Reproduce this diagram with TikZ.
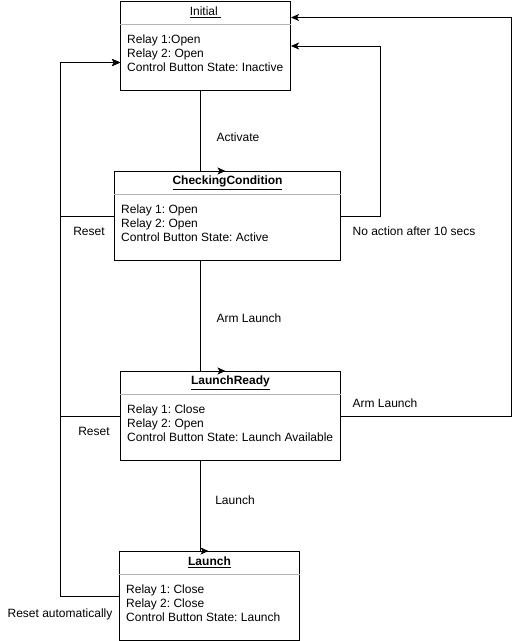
\documentclass[tikz,border=0pt]{standalone}
\usepackage{fontspec}
\setmainfont{Liberation Sans}
\usepackage{xcolor}
\usepackage{tikz}
\usetikzlibrary{arrows.meta,positioning}

\definecolor{splitgray}{HTML}{B3B3B3}
\frenchspacing

\begin{document}
\begin{tikzpicture}[
    x=1pt, y=-1pt,
    font=\fontsize{12}{14}\selectfont,
    state/.style={rectangle, draw, line width=1pt, minimum height=89pt, inner sep=0pt, anchor=north west},
    title/.style={minimum height=23pt, inner sep=0pt},
    body/.style={align=left, inner xsep=7pt, inner ysep=10.5pt, anchor=north west},
    split/.style={draw=splitgray, line width=1pt},
    arrow/.style={line width=1pt, -{Stealth[length=8pt,width=7pt,inset=2pt]}},
    tag/.style={inner sep=0pt}
]
\useasboundingbox (0,0) rectangle (518,641);

% Initial state (top)
\node[state, minimum width=170pt] (init) at (120,1) {};
\node[title, below=0pt of init.north] (initT) {\underline{Initial\ }};
\draw[split] (initT.south -| init.west) -- (initT.south -| init.east);
\node[body] (initB) at (initT.south -| init.west) {Relay 1:Open\\Relay 2: Open\\Control Button State: Inactive};

% Checking condition (second row)
\node[state, minimum width=226pt] (check) at (114,171) {};
\node[title, below=0pt of check.north] (checkT) {\underline{\textbf{CheckingCondition}}};
\draw[split] (checkT.south -| check.west) -- (checkT.south -| check.east);
\node[body] (checkB) at (checkT.south -| check.west) {Relay 1: Open\\Relay 2: Open\\Control Button State: Active};

% Launch ready (third row)
\node[state, minimum width=220pt] (ready) at (120,371) {};
\node[title, below=0pt of ready.north] (readyT) {\underline{\textbf{LaunchReady}}};
\draw[split] (readyT.south -| ready.west) -- (readyT.south -| ready.east);
\node[body] (readyB) at (readyT.south -| ready.west) {Relay 1: Close\\Relay 2: Open\\Control Button State: Launch Available};

% Launch (bottom)
\node[state, minimum width=180pt] (launch) at (119,551) {};
\node[title, below=0pt of launch.north] (launchT) {\underline{\textbf{Launch}}};
\draw[split] (launchT.south -| launch.west) -- (launchT.south -| launch.east);
\node[body] (launchB) at (launchT.south -| launch.west) {Relay 1: Close\\Relay 2: Close\\Control Button State: Launch};

% Helper points
\coordinate (spine) at ([xshift=-5pt]init.south);
\coordinate (resetin) at ([yshift=-16.5pt]init.west);
\coordinate (rail) at (60,0);

% Forward transitions
\draw[arrow] (spine) -- (spine |- check.north) -- ++(25,0);
\draw[arrow] (check.south -| spine) -- (spine |- ready.north) -- ++(25,0);
\draw[arrow] (ready.south -| spine) -- (spine |- launch.north) -- ++(8,0);

% Reset transitions (left)
\draw[arrow] (check.west) -| (rail |- resetin) -- (resetin);
\draw[arrow] (ready.west) -| (rail |- resetin) -- (resetin);
\draw[arrow] (launch.west) -| (rail |- resetin) -- (resetin);

% Back transitions (right)
\draw[arrow] (check.east) -- ++(39,0) |- (init.east);
\draw[arrow] (ready.east) -- ++(170,0) |- ([yshift=28.5pt]init.east);

% Labels
\node[tag] (lblActivate) at (238,137) {Activate};
\node[tag] (lblArm) at (249,318) {Arm Launch};
\node[tag] (lblLaunch) at (235,500) {Launch};
\node[tag] (lblReset1) at (89,231) {Reset};
\node[tag] (lblReset2) at (94,431) {Reset};
\node[tag] (lblResetAuto) at (60,614) {Reset automatically};
\node[tag] (lblNoAction) at (414,231) {No action after 10 secs};
\node[tag] (lblArmBack) at (385,403) {Arm Launch};

\end{tikzpicture}
\end{document}
